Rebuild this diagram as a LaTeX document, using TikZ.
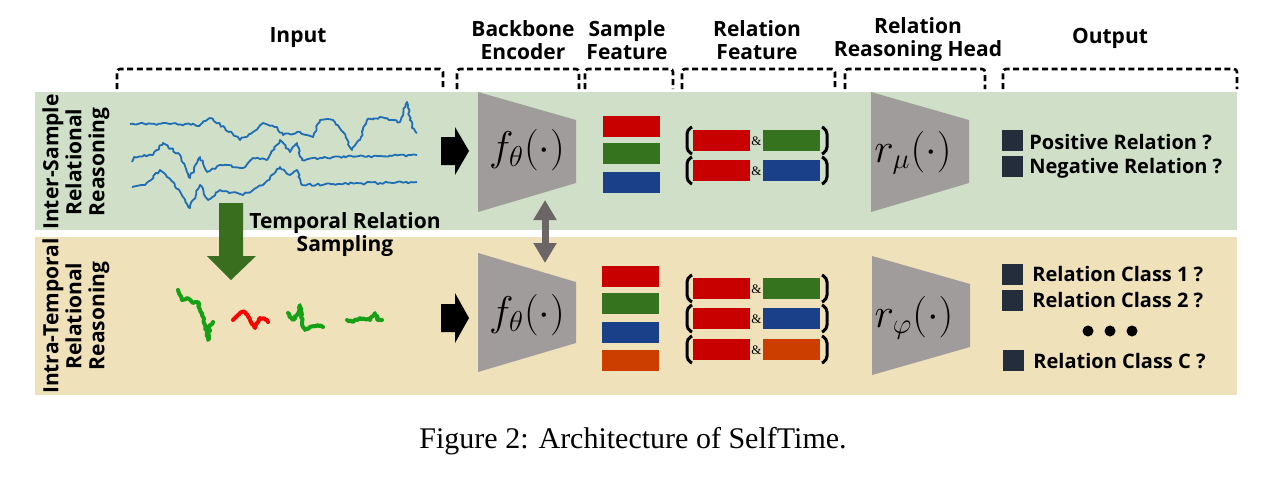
\documentclass[tikz,border=0pt]{standalone}
\usepackage{fontspec}
\setmainfont{Liberation Serif}
\newfontfamily\labfont{Open Sans}
\usetikzlibrary{decorations.pathmorphing,arrows.meta}
\definecolor{bggreen}{HTML}{D0DFC8}
\definecolor{bgtan}{HTML}{EFE1BA}
\definecolor{encgray}{HTML}{A09C9C}
\definecolor{dblgray}{HTML}{6B6565}
\definecolor{fred}{HTML}{C80000}
\definecolor{fgreen}{HTML}{36731E}
\definecolor{fblue}{HTML}{1A408A}
\definecolor{forange}{HTML}{CC3D00}
\definecolor{sqdark}{HTML}{232D3C}
\definecolor{arrgreen}{HTML}{3A6E1F}
\definecolor{sigblue}{HTML}{1F6DB5}
\definecolor{siggreen}{HTML}{16A016}
\definecolor{sigred}{HTML}{FF0000}
\newcommand\relrow[3]{%
  \fill[fred] (693,#1) rectangle (750,#1+21);
  \fill[#2] (763,#1) rectangle (820,#1+21);
  \node[amp] (#3) at (756.5,#1+11) {\&};
  \draw[paren] (692,#1-3) -- (687,#1) -- (687,#1+21) -- (692,#1+24);
  \draw[paren] (822,#1-3) -- (827,#1) -- (827,#1+21) -- (822,#1+24);
}
\begin{document}
\begin{tikzpicture}[x=0.5pt,y=-0.5pt,
  hdr/.style={font=\labfont\bfseries\fontsize{10.5}{11.5}\selectfont,align=center,inner sep=0pt},
  side/.style={font=\labfont\bfseries\fontsize{10.5}{11.5}\selectfont,align=center,inner sep=0pt,rotate=90},
  outtxt/.style={font=\labfont\bfseries\fontsize{10}{11}\selectfont,anchor=west,inner sep=0pt},
  dbr/.style={draw,line width=1.3pt,dash pattern=on 3pt off 1.8pt,rounded corners=1.5pt},
  sig/.style={sigblue,line width=0.9pt,line join=round,decorate,decoration={random steps,segment length=1.3pt,amplitude=0.6pt}},
  samp/.style={line width=2pt,line join=round,line cap=round,decorate,decoration={random steps,segment length=1pt,amplitude=0.5pt}},
  mathlab/.style={font=\fontsize{20}{22}\selectfont,inner sep=0pt},
  amp/.style={font=\fontsize{6.5}{7}\selectfont,inner sep=0pt},
  paren/.style={line width=1.5pt,rounded corners=2pt},
  sq/.style={fill=sqdark}
]
\useasboundingbox (0,0) rectangle (1262,488);
\pgfmathsetseed{7}
% bands
\fill[bggreen] (35,92) rectangle (1237,230);
\fill[bgtan] (35,237) rectangle (1237,395);
% headers
\node[hdr] (hinput) at (298,38) {Input};
\node[hdr] (hback) at (523,40) {Backbone\\Encoder};
\node[hdr] (hsamp) at (627,40) {Sample\\Feature};
\node[hdr] (hrel) at (757,40) {Relation\\Feature};
\node[hdr] (hhead) at (918,40) {Relation\\Reasoning Head};
\node[hdr] (hout) at (1110,38) {Output};
% dashed brackets
\draw[dbr] (117,89) -- (117,69) -- (443,69) -- (443,89);
\draw[dbr] (457,89) -- (457,69) -- (579,69) -- (579,89);
\draw[dbr] (585,89) -- (585,69) -- (673,69) -- (673,89);
\draw[dbr] (682,89) -- (682,69) -- (835,69) -- (835,89);
\draw[dbr] (845,89) -- (845,69) -- (985,69) -- (985,89);
\draw[dbr] (1003,89) -- (1003,69) -- (1237,69) -- (1237,89);
% side labels
\node[side] (sinter) at (76,162) {Inter-Sample\\Relational\\Reasoning};
\node[side] (sintra) at (76,316) {Intra-Temporal\\Relational\\Reasoning};
% input signals
\draw[sig] (130,124) -- (170,124) -- (200,125) -- (210,118) -- (225,128) -- (240,140) -- (253,132) -- (263,123) -- (277,127) -- (283,135) -- (300,132) -- (313,137) -- (320,120) -- (333,120) -- (343,132) -- (352,150) -- (360,140) -- (367,120) -- (380,117) -- (400,122) -- (407,102) -- (412,128) -- (417,133);
\draw[sig] (132,162) -- (134,157) -- (153,155) -- (163,143) -- (180,155) -- (190,178) -- (200,157) -- (207,172) -- (220,165) -- (243,168) -- (253,158) -- (267,160) -- (280,140) -- (290,152) -- (297,143) -- (302,160) -- (333,157) -- (380,156) -- (417,155);
\draw[sig] (132,187) -- (145,185) -- (160,170) -- (173,182) -- (190,208) -- (200,185) -- (208,200) -- (220,190) -- (243,195) -- (263,185) -- (280,167) -- (290,175) -- (297,170) -- (302,185) -- (333,184) -- (380,183) -- (417,182);
% green down arrow
\fill[arrgreen] (219,203) -- (243,203) -- (243,256) -- (256,256) -- (231,280) -- (207,256) -- (219,256) -- cycle;
\node[hdr] (tsamp) at (345,235) {Temporal Relation\\Sampling};
% sampled signals
\draw[samp,siggreen] (178,290) -- (182,300) -- (187,298) -- (193,303) -- (198,302) -- (203,317) -- (207,333) -- (208,340) -- (210,325) -- (213,322);
\draw[samp,sigred] (233,320) -- (240,313) -- (245,312) -- (250,320) -- (255,328) -- (260,318) -- (267,320) -- (268,322);
\draw[samp,siggreen] (288,313) -- (293,320) -- (297,315) -- (300,305) -- (303,327) -- (305,330) -- (310,327) -- (317,325) -- (323,327);
\draw[samp,siggreen] (347,320) -- (353,322) -- (360,318) -- (370,320) -- (375,313) -- (378,320) -- (382,320);
% black block arrows
\fill (441,137) -- (455,137) -- (455,127) -- (469,151) -- (455,175) -- (455,165) -- (441,165) -- cycle;
\fill (441,304) -- (455,304) -- (455,293) -- (469,318) -- (455,343) -- (455,332) -- (441,332) -- cycle;
% encoders
\fill[encgray] (478,92) -- (576,120) -- (576,183) -- (478,212) -- cycle;
\node[mathlab] (encA) at (527,150) {$f_{\theta}(\cdot)$};
\fill[encgray] (478,253) -- (576,282) -- (576,343) -- (478,372) -- cycle;
\node[mathlab] (encB) at (527,315) {$f_{\theta}(\cdot)$};
\coordinate (encAb) at (545,200);
\coordinate (encBt) at (545,263);
\draw[dblgray,line width=3.5pt,{Triangle[width=11pt,length=10pt]}-{Triangle[width=11pt,length=10pt]}] (encAb) -- (encBt);
% sample features
\fill[fred] (603,116) rectangle (660,137);
\fill[fgreen] (603,143) rectangle (660,164);
\fill[fblue] (603,172) rectangle (660,193);
\fill[fred] (602,266) rectangle (659,287);
\fill[fgreen] (602,293) rectangle (659,314);
\fill[fblue] (602,322) rectangle (659,343);
\fill[forange] (602,350) rectangle (659,371);
% relation features
\relrow{130}{fgreen}{ampA}
\relrow{160}{fblue}{ampB}
\relrow{278}{fgreen}{ampC}
\relrow{308}{fblue}{ampD}
\relrow{339}{forange}{ampE}
% heads
\fill[encgray] (871,92) -- (969,120) -- (969,183) -- (871,212) -- cycle;
\node[mathlab] (headA) at (913,153) {$r_{\mu}(\cdot)$};
\fill[encgray] (872,256) -- (970,284) -- (970,347) -- (872,375) -- cycle;
\node[mathlab] (headB) at (914,318) {$r_{\varphi}(\cdot)$};
% outputs
\fill[sq] (1002,130) rectangle (1023,151);
\fill[sq] (1002,156) rectangle (1023,177);
\node[outtxt] (o1) at (1029,142) {Positive Relation ?};
\node[outtxt] (o2) at (1029,168) {Negative Relation ?};
\fill[sq] (1002,264) rectangle (1023,285);
\fill[sq] (1002,290) rectangle (1023,311);
\fill[sq] (1003,350) rectangle (1024,371);
\node[outtxt] (o3) at (1032,274) {Relation Class 1 ?};
\node[outtxt] (o4) at (1032,300) {Relation Class 2 ?};
\node[outtxt] (o5) at (1033,361) {Relation Class C ?};
\fill (1088,331) circle (5.5);
\fill (1110,331) circle (5.5);
\fill (1132,331) circle (5.5);
% caption
\node[font=\fontsize{15}{17}\selectfont,inner sep=0pt] (cap) at (633,441) {Figure 2: Architecture of SelfTime.};
\end{tikzpicture}
\end{document}
